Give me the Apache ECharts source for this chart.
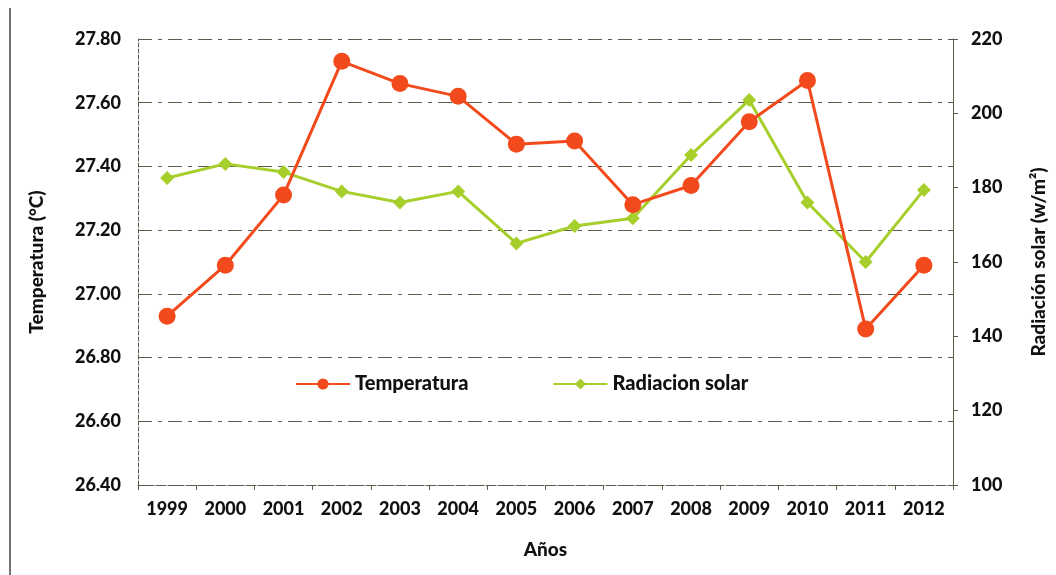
<!DOCTYPE html>
<html>
<head>
<meta charset="utf-8">
<script src="https://cdn.jsdelivr.net/npm/echarts@6/dist/echarts.min.js"></script>
<style>
  html, body { margin: 0; padding: 0; background: #fff; }
  #chart-container { width: 1056px; height: 575px; }
</style>
</head>
<body>
<div id="chart-container"></div>
<script>
// data
var years = ["1999", "2000", "2001", "2002", "2003", "2004", "2005", "2006", "2007", "2008", "2009", "2010", "2011", "2012"];
var temperatura = [26.93, 27.09, 27.31, 27.73, 27.66, 27.62, 27.47, 27.48, 27.28, 27.34, 27.54, 27.67, 26.89, 27.09];
var radiacion = [182.6, 186.4, 184.2, 179, 176, 179, 165, 169.7, 171.8, 188.8, 203.6, 176, 160, 179.4];

var font = "Lato, 'Open Sans', sans-serif";
var gridColor = "#5a5a4a";

var dom = document.getElementById("chart-container");
var myChart = echarts.init(dom, null, { renderer: "canvas" });

var option = {
  animation: false,
  backgroundColor: "#fff",
  textStyle: { fontFamily: font },
  grid: { left: 138, right: 94, top: 39, bottom: 90, containLabel: false },
  legend: {
    left: 290,
    top: 369,
    itemWidth: 54,
    itemHeight: 14,
    itemGap: 84,
    textStyle: { fontFamily: font, fontWeight: 900, fontSize: 20, color: "#111" },
    data: ["Temperatura", "Radiacion solar"]
  },
  xAxis: {
    type: "category",
    data: years,
    boundaryGap: true,
    name: "Años",
    nameLocation: "middle",
    nameGap: 55,
    nameTextStyle: { fontFamily: font, fontWeight: 900, fontSize: 19, color: "#111" },
    axisLine: { lineStyle: { color: gridColor, type: "dashed" } },
    axisTick: { show: true, lineStyle: { color: gridColor } },
    axisLabel: { fontFamily: font, fontWeight: 900, fontSize: 18, color: "#111", margin: 15 }
  },
  yAxis: [
    {
      type: "value",
      min: 26.4,
      max: 27.8,
      interval: 0.2,
      name: "Temperatura (°C)",
      nameLocation: "middle",
      nameGap: 92,
      nameTextStyle: { fontFamily: font, fontWeight: 900, fontSize: 19, color: "#111" },
      axisLine: { show: true, lineStyle: { color: gridColor, type: "dashed" } },
      axisTick: { show: false },
      axisLabel: {
        fontFamily: font, fontWeight: 900, fontSize: 18, color: "#111", margin: 17,
        formatter: function (v) { return v.toFixed(2); }
      },
      splitLine: { lineStyle: { color: gridColor, type: [14, 6, 4, 6], width: 1 } }
    },
    {
      type: "value",
      min: 100,
      max: 220,
      interval: 20,
      name: "Radiación solar (w/m²)",
      nameLocation: "middle",
      nameGap: 76,
      nameRotate: 90,
      nameTextStyle: { fontFamily: font, fontWeight: 900, fontSize: 19, color: "#111" },
      axisLine: { show: true, lineStyle: { color: gridColor } },
      axisTick: { show: true, length: 5, lineStyle: { color: gridColor } },
      axisLabel: { fontFamily: font, fontWeight: 900, fontSize: 18, color: "#111", margin: 18 },
      splitLine: { show: false }
    }
  ],
  series: [
    {
      name: "Temperatura",
      type: "line",
      yAxisIndex: 0,
      data: temperatura,
      symbol: "circle",
      symbolSize: 17,
      lineStyle: { color: "#f24a1c", width: 3 },
      itemStyle: { color: "#f24a1c" },
      z: 3
    },
    {
      name: "Radiacion solar",
      type: "line",
      yAxisIndex: 1,
      data: radiacion,
      symbol: "diamond",
      symbolSize: 14,
      lineStyle: { color: "#a6cf2c", width: 3 },
      itemStyle: { color: "#a6cf2c" },
      z: 2
    }
  ],
  graphic: [
    {
      type: "line",
      shape: { x1: 10, y1: 8, x2: 10, y2: 575 },
      style: { stroke: "#444", lineWidth: 1.5 }
    }
  ]
};

myChart.setOption(option);
window.addEventListener("resize", myChart.resize);
</script>
</body>
</html>
